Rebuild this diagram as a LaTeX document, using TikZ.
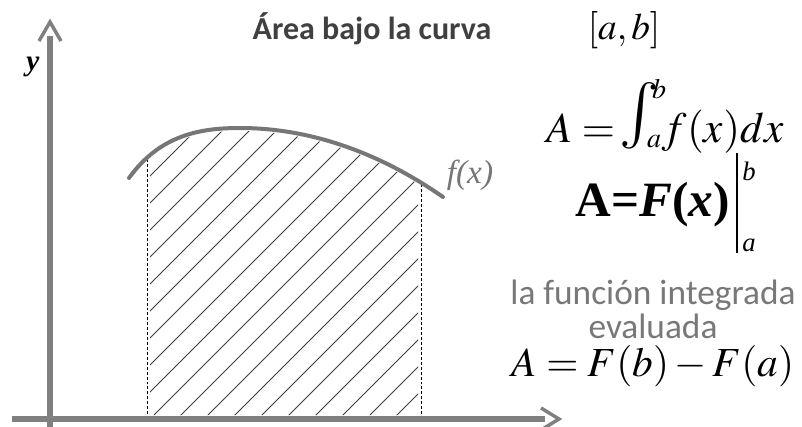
\documentclass[tikz,border=0pt]{standalone}
\usepackage{mathptmx}
\usepackage{fontspec}
\newfontfamily\carlito{Carlito}
\newfontfamily\tnr{Liberation Serif}
\definecolor{axisgray}{RGB}{128,128,128}
\definecolor{curvegray}{RGB}{118,118,118}
\definecolor{titlegray}{RGB}{64,64,64}
\definecolor{notegray}{RGB}{120,120,120}
\definecolor{hatchgray}{RGB}{60,60,60}
\tikzset{
  axisline/.style={draw=axisgray, line width=3.8pt},
  chevron/.style={draw=axisgray, line width=2.6pt, line join=miter},
  curveline/.style={draw=curvegray, line width=3pt, line cap=round},
  boundline/.style={draw=black, line width=0.6pt, dash pattern=on 2.2pt off 1.5pt},
  hatchline/.style={draw=hatchgray, line width=0.65pt},
  txt/.style={inner sep=0pt, anchor=center},
  btxt/.style={inner sep=0pt, anchor=base},
  bwtxt/.style={inner sep=0pt, anchor=base west},
}
\begin{document}
\begin{tikzpicture}[x=0.75pt,y=-0.75pt]
\useasboundingbox (0,0) rectangle (802,427);
% hatching
\begin{scope}
  \clip (150,0) rectangle (418,415);
  \clip (129,181) .. controls (160,138) and (200,131) .. (240,131) .. controls (320,131) and (390,163) .. (443,200) -- (443,415) -- (129,415) -- cycle;
  \foreach \c in {326,353,...,900} {
    \draw[hatchline] (\c-450,450) -- (\c,0);
  }
\end{scope}
% bounds
\coordinate (la) at (147,419);
\coordinate (lb) at (421,419);
\coordinate (fa) at (147,160);
\coordinate (fb) at (421,182);
\draw[boundline] (la) -- (fa);
\draw[boundline] (lb) -- (fb);
% curve
\draw[curveline] (129,178) .. controls (160,135) and (200,128) .. (240,128) .. controls (320,128) and (390,160) .. (443,197);
% axes
\coordinate (o1) at (12,419);
\coordinate (xe) at (545,419);
\coordinate (o2) at (50,427);
\coordinate (ye) at (50,36);
\draw[axisline] (o1) -- (xe);
\draw[axisline] (o2) -- (ye);
\draw[chevron] (541,408) -- (559,419) -- (541,430);
\draw[chevron] (39,41) -- (50,22) -- (61,41);
% labels
\node[txt] (ylab) at (33,67) {\fontsize{22}{24}\selectfont\tnr\bfseries\itshape y};
\node[txt, text=curvegray] (flab) at (470,175) {\fontsize{25}{27}\selectfont\tnr\itshape f(x)};
\node[txt, text=titlegray] (title) at (372,29) {\fontsize{24}{28}\selectfont\carlito\bfseries Área bajo la curva};
\node[txt] (interval) at (624,30) {\fontsize{28}{32}\selectfont $[a,b]$};
% integral formula
\node[bwtxt] (intA) at (546,143) {\fontsize{32}{36}\selectfont $A=$};
\node[txt] (intsign) at (639,116) {\fontsize{50}{55}\selectfont $\int$};
\node[txt] (intb) at (659,89) {\fontsize{21}{23}\selectfont $b$};
\node[txt] (inta) at (654,142) {\fontsize{21}{23}\selectfont $a$};
\node[bwtxt] (intf) at (662,143) {\fontsize{32.5}{36}\selectfont $f(x)dx$};
% evaluated primitive
\node[btxt] (prim) at (653,217) {\fontsize{37}{40}\selectfont\tnr\bfseries A=\textit{F}(\textit{x})};
\coordinate (bartop) at (737,153);
\coordinate (barbot) at (737,253);
\draw[line width=1.1pt] (bartop) -- (barbot);
\node[txt] (supb) at (749,171) {\fontsize{20}{22}\selectfont\tnr\itshape b};
\node[txt] (suba) at (749,245) {\fontsize{20}{22}\selectfont\tnr\itshape a};
\node[btxt, text=notegray] (note1) at (653,305) {\fontsize{26.5}{30}\selectfont\carlito la función integrada};
\node[btxt, text=notegray] (note2) at (653,338) {\fontsize{26.5}{30}\selectfont\carlito evaluada};
\node[btxt] (result) at (653,376) {\fontsize{31}{34}\selectfont $A=F(b)-F(a)$};
\end{tikzpicture}
\end{document}
